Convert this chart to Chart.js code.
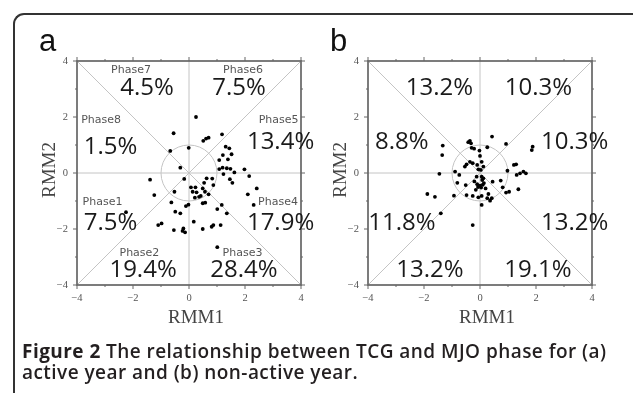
<!DOCTYPE html>
<html><head><meta charset="utf-8">
<script src="https://cdn.jsdelivr.net/npm/chart.js@4/dist/chart.umd.min.js"></script>
<style>
html,body{margin:0;padding:0;background:#fff;width:633px;height:393px;overflow:hidden;}
#frame{position:absolute;left:13px;top:13px;width:640px;height:440px;border:2px solid #333;border-right:none;border-radius:11px 0 0 0;box-sizing:border-box;}
#ca{position:absolute;left:0;top:0;}
#cb{position:absolute;left:291px;top:0;}
.lbl{position:absolute;font-family:"Liberation Sans",Arial,sans-serif;font-size:31px;line-height:31px;color:#111;}
#cap{position:absolute;left:22px;top:341px;font-family:"Open Sans",sans-serif;font-size:19px;line-height:21px;letter-spacing:0.45px;color:#231f20;white-space:nowrap;font-weight:600;}
#cap b{font-weight:700;}
</style></head>
<body>
<div id="frame"></div>
<canvas id="ca" width="320" height="340"></canvas>
<canvas id="cb" width="342" height="340"></canvas>
<div class="lbl" style="left:39px;top:25px;">a</div>
<div class="lbl" style="left:330px;top:25px;">b</div>
<div id="cap"><b>Figure 2</b> The relationship between TCG and MJO phase for (a)<br>active year and (b) non-active year.</div>
<script>
// ---- data ----
const axisTicks = [-4, -2, 0, 2, 4];
const phaseNames = ['Phase1','Phase2','Phase3','Phase4','Phase5','Phase6','Phase7','Phase8'];
const pctA = ['7.5%','19.4%','28.4%','17.9%','13.4%','7.5%','4.5%','1.5%'];
const pctB = ['11.8%','13.2%','19.1%','13.2%','10.3%','10.3%','13.2%','8.8%'];
const rmm1A = [0.25,-0.55,0.51,0.61,0.70,1.18,-0.67,-0.01,1.31,1.44,1.21,1.52,1.08,1.39,-0.31,1.08,1.20,1.35,1.48,1.98,1.23,1.62,2.15,-1.39,-0.17,0.63,0.83,1.46,1.55,0.54,-1.24,-0.52,0.07,0.23,0.13,0.27,0.36,0.21,0.42,0.49,0.57,0.70,0.87,2.10,2.42,2.31,-0.63,-0.49,-0.31,-0.11,-0.02,0.17,0.49,0.58,1.01,1.17,1.35,-1.10,-0.98,-0.54,-0.20,-0.14,-0.23,0.49,0.87,0.81,1.13,1.01,-2.25];
const rmm2A = [2.00,1.42,1.15,1.23,1.26,1.38,0.79,0.90,0.94,0.88,0.64,0.67,0.46,0.49,0.19,0.14,0.19,0.17,0.15,0.13,-0.04,0.02,-0.11,-0.24,-0.21,-0.19,-0.20,-0.22,-0.35,-0.35,-0.79,-0.67,-0.51,-0.51,-0.67,-0.69,-0.85,-0.88,-0.82,-0.55,-0.67,-0.76,-0.43,-0.76,-0.55,-1.14,-1.05,-1.38,-1.44,-1.18,-1.13,-1.74,-1.08,-1.06,-1.29,-1.14,-1.44,-1.86,-1.80,-2.04,-1.98,-2.12,-2.07,-2.00,-1.86,-1.92,-1.86,-2.65,-1.40];
const rmm1B = [-1.33,-1.35,-0.42,-0.36,-0.32,-0.30,-0.21,-0.02,0.26,0.43,0.93,1.88,1.85,0.00,0.06,-0.36,-0.26,-0.48,-0.54,-0.10,0.12,-0.06,0.03,-0.89,-1.45,0.98,1.21,1.29,1.43,1.55,1.64,1.31,-0.74,-0.12,0.06,0.12,-0.81,-0.51,-0.10,0.00,0.10,-0.07,0.04,0.14,0.45,0.74,0.81,0.93,1.04,1.37,-1.88,-1.61,-0.93,-0.48,-0.26,0.06,0.26,-0.06,0.30,0.42,0.36,0.06,-1.40,-0.26,-0.20,0.20,-0.15,0.08];
const rmm2B = [0.98,0.64,1.10,1.15,1.06,0.90,0.87,0.80,0.92,1.30,1.04,0.94,0.82,0.61,0.40,0.40,0.35,0.31,0.23,0.29,0.23,0.13,0.11,0.05,-0.03,0.08,0.29,0.31,-0.01,0.05,-0.01,-0.07,-0.07,-0.13,-0.13,-0.19,-0.35,-0.43,-0.40,-0.45,-0.42,-0.50,-0.52,-0.36,-0.31,-0.27,-0.51,-0.70,-0.67,-0.58,-0.75,-0.85,-0.81,-0.79,-0.82,-0.82,-0.90,-0.87,-0.75,-0.90,-0.99,-1.14,-1.44,-1.86,-0.30,-0.55,-0.60,-0.25];

// ---- label anchors (data coordinates) ----
const nameAnchorA = [[-3.09,-1.14],[-1.77,-2.96],[1.91,-2.96],[3.18,-1.14],[3.20,1.79],[1.93,3.57],[-2.07,3.57],[-3.14,1.79]];
const pctAnchorA  = [[-2.80,-2.04],[-1.64,-3.71],[1.96,-3.71],[3.27,-2.04],[3.27,0.86],[1.79,2.79],[-1.50,2.79],[-2.80,0.68]];
const pctAnchorB  = [[-2.79,-2.04],[-1.79,-3.71],[2.07,-3.71],[3.38,-2.04],[3.38,0.86],[2.09,2.79],[-1.45,2.79],[-2.79,0.86]];

function pts(xs, ys){ return xs.map((x,i)=>({x:x, y:ys[i]})); }

const decor = {
  id:'decor',
  beforeDatasetsDraw(chart, args, o){
    const ctx = chart.ctx, xs = chart.scales.x, ys = chart.scales.y, a = chart.chartArea;
    const X = v=>xs.getPixelForValue(v), Y = v=>ys.getPixelForValue(v);
    ctx.save();
    ctx.strokeStyle = '#c4c4c4'; ctx.lineWidth = 1;
    ctx.beginPath();
    ctx.moveTo(X(-4),Y(0)); ctx.lineTo(X(4),Y(0));
    ctx.moveTo(X(0),Y(-4)); ctx.lineTo(X(0),Y(4));
    ctx.moveTo(X(-4),Y(-4)); ctx.lineTo(X(4),Y(4));
    ctx.moveTo(X(-4),Y(4)); ctx.lineTo(X(4),Y(-4));
    ctx.stroke();
    ctx.beginPath();
    ctx.arc(X(0),Y(0),X(1)-X(0),0,Math.PI*2);
    ctx.stroke();
    ctx.strokeStyle = '#666'; ctx.lineWidth = 1.7;
    ctx.strokeRect(a.left, a.top, a.right-a.left, a.bottom-a.top);
    ctx.lineWidth = 1;
    ctx.beginPath();
    for (let v=-4; v<=4; v++){
      const L = (v%2===0) ? 4 : 2;
      ctx.moveTo(X(v), a.bottom); ctx.lineTo(X(v), a.bottom+L);
      ctx.moveTo(X(v), a.top); ctx.lineTo(X(v), a.top-L);
      ctx.moveTo(a.left, Y(v)); ctx.lineTo(a.left-L, Y(v));
      ctx.moveTo(a.right, Y(v)); ctx.lineTo(a.right+L, Y(v));
    }
    ctx.stroke();
    ctx.textAlign = 'center'; ctx.textBaseline = 'alphabetic';
    if (o.names){
      ctx.fillStyle = '#555';
      ctx.font = '11px "DejaVu Sans"';
      o.names.forEach((n,i)=>ctx.fillText(n, X(o.nameAnchors[i][0]), Y(o.nameAnchors[i][1])));
    }
    ctx.fillStyle = '#1a1a1a';
    ctx.font = '24px "Open Sans"';
    o.pcts.forEach((p,i)=>ctx.fillText(p, X(o.pctAnchors[i][0]), Y(o.pctAnchors[i][1])));
    ctx.fillStyle = '#444';
    ctx.font = '19px "Liberation Serif"';
    ctx.fillText('RMM1', (a.left+a.right)/2 + 7, a.bottom + 38);
    ctx.save();
    ctx.translate(a.left - 22, (a.top+a.bottom)/2 - 3);
    ctx.rotate(-Math.PI/2);
    ctx.fillText('RMM2', 0, 0);
    ctx.restore();
    ctx.restore();
  }
};

function fmt(v){ return v < 0 ? '\u2212' + Math.abs(v) : String(v); }

function makeChart(id, data, rightPad, opts){
  return new Chart(document.getElementById(id), {
    type:'scatter',
    data:{datasets:[{data:data, backgroundColor:'#000', borderColor:'#000', borderWidth:0, pointRadius:1.9, pointHoverRadius:1.9}]},
    plugins:[decor],
    options:{
      responsive:false, animation:false, devicePixelRatio:1,
      layout:{padding:{top:61, right:rightPad, bottom:0, left:0}},
      plugins:{legend:{display:false}, tooltip:{enabled:false}, decor:opts},
      scales:{
        x:{type:'linear', min:-4, max:4,
           afterBuildTicks:s=>{s.ticks = axisTicks.map(v=>({value:v}));},
           afterFit:s=>{s.height = 55;},
           grid:{display:false, drawTicks:false}, border:{display:false},
           ticks:{padding:7, color:'#555', font:{family:'"Liberation Serif"', size:10.5}, callback:v=>fmt(v), maxRotation:0}},
        y:{type:'linear', min:-4, max:4,
           afterBuildTicks:s=>{s.ticks = axisTicks.map(v=>({value:v}));},
           afterFit:s=>{s.width = 77;},
           grid:{display:false, drawTicks:false}, border:{display:false},
           ticks:{padding:9, color:'#555', font:{family:'"Liberation Serif"', size:10.5}, callback:v=>fmt(v)}}
      }
    }
  });
}

makeChart('ca', pts(rmm1A, rmm2A), 19, {names:phaseNames, nameAnchors:nameAnchorA, pcts:pctA, pctAnchors:pctAnchorA});
makeChart('cb', pts(rmm1B, rmm2B), 41, {names:null, pcts:pctB, pctAnchors:pctAnchorB});
</script>
</body></html>
